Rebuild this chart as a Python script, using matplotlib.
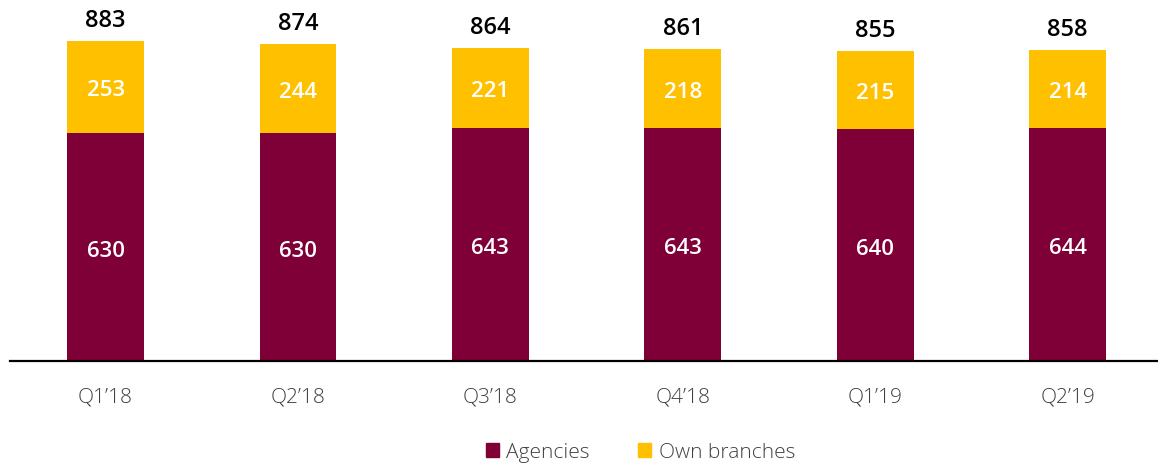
import matplotlib
matplotlib.use("Agg")
import matplotlib.pyplot as plt
from matplotlib.patches import Patch

plt.rcParams['font.family'] = ['Open Sans', 'DejaVu Sans']

quarters = ["Q1\u201918", "Q2\u201918", "Q3\u201918", "Q4\u201918", "Q1\u201919", "Q2\u201919"]
agencies = [630, 630, 643, 643, 640, 644]
own_branches = [253, 244, 221, 218, 215, 214]

maroon = "#7F0037"
gold = "#FFC000"


def main():
    fig = plt.figure(figsize=(11.58, 4.63), dpi=100)
    ax = fig.add_axes([10 / 1158, 102 / 463, 1148 / 1158, 361 / 463])

    x = list(range(len(quarters)))
    ax.bar(x, agencies, width=0.4, color=maroon, label="Agencies")
    ax.bar(x, own_branches, width=0.4, bottom=agencies, color=gold, label="Own branches")

    for i in x:
        a = agencies[i]
        o = own_branches[i]
        # segment labels sit a touch below the middle
        ax.text(i, a / 2 - 12, str(a), ha="center", va="center", color="white",
                fontsize=16, fontweight="semibold")
        ax.text(i, a + o / 2 - 10, str(o), ha="center", va="center", color="white",
                fontsize=16, fontweight="semibold")
        # total on top of each stack
        ax.text(i, a + o + 22, str(a + o), ha="center", va="bottom", color="black",
                fontsize=17, fontweight="semibold")

    ax.set_xlim(-0.497, 5.47)
    ax.set_ylim(0, 996)
    ax.set_xticks(x)
    ax.set_xticklabels(quarters, fontsize=15, fontweight="light", color="#404040")
    ax.tick_params(axis="x", length=0, pad=19)
    ax.set_yticks([])
    for side in ["top", "right", "left"]:
        ax.spines[side].set_visible(False)
    ax.spines["bottom"].set_linewidth(1.6)
    ax.spines["bottom"].set_color("black")

    handles = [Patch(color=maroon, label="Agencies"), Patch(color=gold, label="Own branches")]
    fig.legend(handles=handles, loc="lower center", bbox_to_anchor=(0.553, -0.04), ncol=2,
               frameon=False, handlelength=0.65, handleheight=0.65,
               handletextpad=0.35, columnspacing=2.3, labelcolor="#404040",
               prop={"weight": "light", "size": 15})

    fig.savefig("out.png", dpi=100)


if __name__ == "__main__":
    main()
